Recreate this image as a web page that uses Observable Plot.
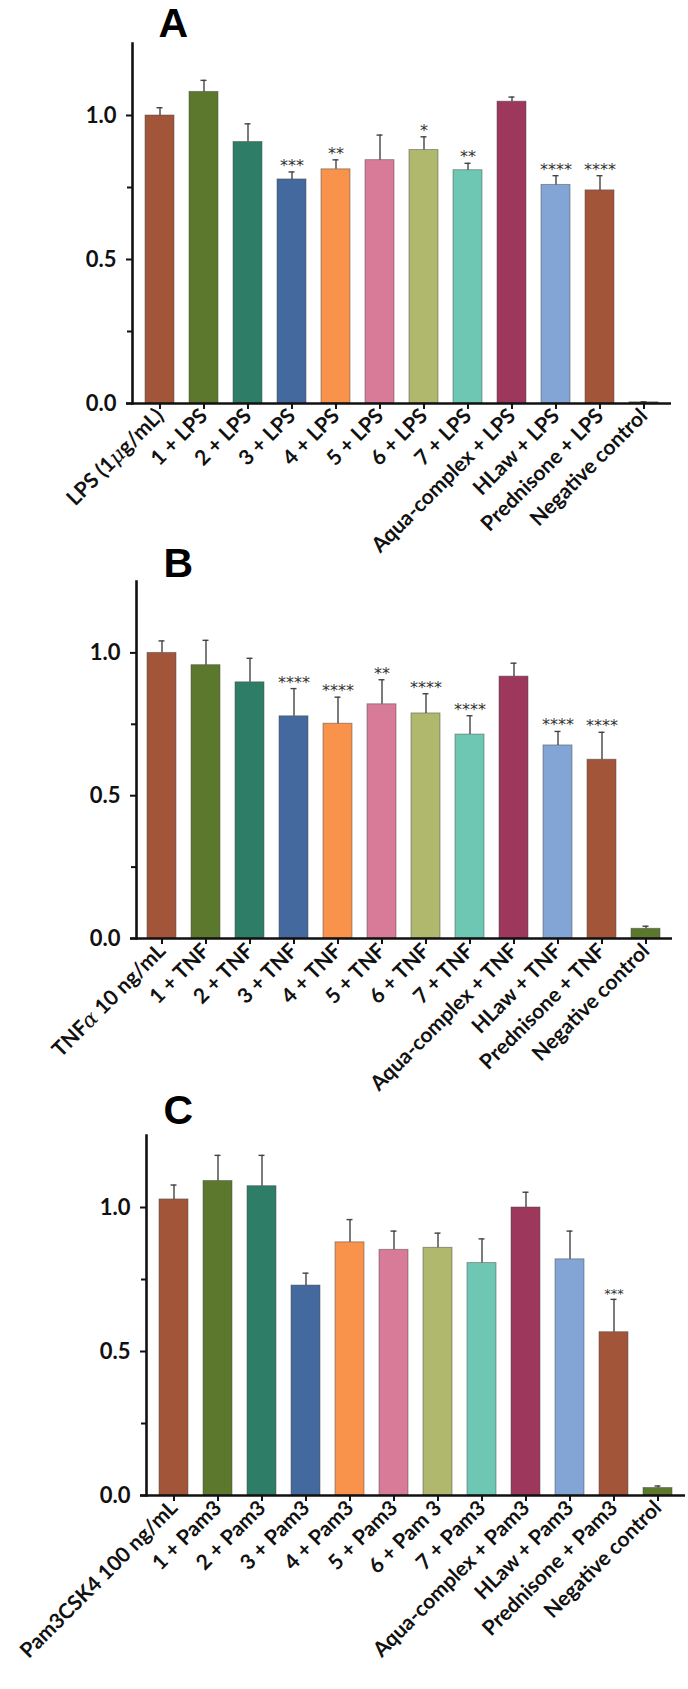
<!DOCTYPE html>
<html><head><meta charset="utf-8">
<script src="https://cdn.jsdelivr.net/npm/d3@7"></script>
<script src="https://cdn.jsdelivr.net/npm/@observablehq/plot@0.6"></script>
<style>
body{margin:0;background:#fff;}
#wrap{position:relative;width:688px;height:1689px;overflow:hidden;}
.panel{position:absolute;left:0;}
</style></head><body><div id="wrap"></div>
<script>
// ---- Data ----
const colors = ["#A3553A","#5C782C","#2E7D67","#44699E","#F9924A","#D87B98","#AFB86C","#6EC7B2","#9D375C","#82A5D6","#A3553A","#5C782C"];

const catsA = ["LPS (1μg/mL)","1 + LPS","2 + LPS","3 + LPS","4 + LPS","5 + LPS","6 + LPS","7 + LPS","Aqua-complex + LPS","HLaw + LPS","Prednisone + LPS","Negative control"];
const valsA = [1.000,1.082,0.908,0.778,0.813,0.845,0.880,0.810,1.048,0.759,0.740,0.004];
const errA  = [1.027,1.122,0.971,0.804,0.846,0.932,0.926,0.834,1.064,0.791,0.791,0.006];
const sigA  = ["","","","***","**","","*","**","","****","****",""];

const catsB = ["TNFα 10 ng/mL","1 + TNF","2 + TNF","3 + TNF","4 + TNF","5 + TNF","6 + TNF","7 + TNF","Aqua-complex + TNF","HLaw + TNF","Prednisone + TNF","Negative control"];
const valsB = [1.000,0.957,0.897,0.778,0.752,0.820,0.788,0.714,0.917,0.676,0.626,0.034];
const errB  = [1.042,1.044,0.981,0.875,0.845,0.906,0.857,0.780,0.964,0.725,0.722,0.043];
const sigB  = ["","","","****","****","**","****","****","","****","****",""];

const catsC = ["Pam3CSK4 100 ng/mL","1 + Pam3","2 + Pam3","3 + Pam3","4 + Pam3","5 + Pam3","6 + Pam 3","7 + Pam3","Aqua-complex + Pam3","HLaw + Pam3","Prednisone + Pam3","Negative control"];
const valsC = [1.028,1.092,1.074,0.729,0.879,0.853,0.860,0.807,1.000,0.820,0.567,0.026];
const errC  = [1.078,1.181,1.181,0.772,0.958,0.918,0.911,0.891,1.053,0.918,0.681,0.033];
const sigC  = ["","","","","","","","","","","***",""];

const yTicks = [0, 0.5, 1.0];
const yMinor = [0.25, 0.75];

// render Greek letters (μ, α) in an italic serif face, as in the original figure
function styleGreek(svg) {
  const walker = document.createTreeWalker(svg, NodeFilter.SHOW_TEXT);
  const nodes = [];
  while (walker.nextNode()) if (/[μα]/.test(walker.currentNode.nodeValue)) nodes.push(walker.currentNode);
  for (const node of nodes) {
    const parent = node.parentNode;
    const parts = node.nodeValue.split(/([μα])/);
    for (const p of parts) {
      if (!p) continue;
      if (p === "μ" || p === "α") {
        const ts = document.createElementNS("http://www.w3.org/2000/svg", "tspan");
        ts.setAttribute("font-family", "DejaVu Serif");
        ts.setAttribute("font-style", "italic");
        ts.setAttribute("font-weight", "normal");
        ts.textContent = p;
        parent.insertBefore(ts, node);
      } else {
        parent.insertBefore(document.createTextNode(p), node);
      }
    }
    parent.removeChild(node);
  }
}

function panel({letter, cats, vals, errs, sigs, top, height, marginLeft, marginRight, marginTop, marginBottom, paddingOuter, letterDx, letterDy, starSize}) {
  const data = cats.map((c, i) => ({cat: c, v: vals[i], e: errs[i], s: sigs[i], color: colors[i]}));
  const labelFont = "Lato";
  const svg = Plot.plot({
    width: 688, height, marginLeft, marginRight, marginTop, marginBottom,
    style: {background: "transparent", overflow: "visible"},
    x: {domain: cats, paddingInner: 0.33, paddingOuter, label: null},
    y: {domain: [0, 1.25], label: null},
    color: {type: "identity"},
    marks: [
      Plot.barY(data, {x: "cat", y: "v", fill: "color", stroke: "#4a4a4a", strokeOpacity: 0.55, strokeWidth: 0.9}),
      Plot.ruleX(data, {x: "cat", y1: "v", y2: "e", stroke: "#444", strokeWidth: 1.4}),
      Plot.tickY(data, {x: "cat", y: "e", stroke: "#444", strokeWidth: 1.4, insetLeft: 11.5, insetRight: 11.5}),
      Plot.text(data, {x: "cat", y: "e", text: "s", lineAnchor: "bottom", dy: -1, fontSize: starSize, fontFamily: "DejaVu Sans", fill: "#333"}),
      Plot.ruleY([0], {stroke: "#111", strokeWidth: 2.6, insetLeft: -6}),
      Plot.frame({anchor: "left", stroke: "#111", strokeWidth: 2.6}),
      Plot.axisY({ticks: yTicks, tickFormat: d => d.toFixed(1), tickSize: 6, tickPadding: 10, fontSize: 22, fontWeight: "bold", fontFamily: labelFont, stroke: "#111", strokeWidth: 2, fill: "#111", label: null}),
      Plot.axisY({ticks: yMinor, tickFormat: () => "", tickSize: 5, stroke: "#111", strokeWidth: 2, label: null}),
      Plot.axisX({tickRotate: -45, tickSize: 6, tickPadding: 3, stroke: "#111", strokeWidth: 2, fontSize: 21, fontWeight: "bold", fontFamily: labelFont, fill: "#111", label: null}),
      Plot.text([letter], {frameAnchor: "top-left", dx: letterDx, dy: letterDy, text: d => d, textAnchor: "start", lineAnchor: "bottom", fontSize: 41, fontWeight: "bold", fontFamily: "Liberation Sans", fill: "#000"})
    ]
  });
  styleGreek(svg);
  const div = document.createElement("div");
  div.className = "panel";
  div.style.top = top + "px";
  div.appendChild(svg);
  document.getElementById("wrap").appendChild(div);
}

panel({letter: "A", cats: catsA, vals: valsA, errs: errA, sigs: sigA, top: 0, height: 600,
  marginLeft: 132, marginRight: 17, marginTop: 43, marginBottom: 197, paddingOuter: 0.178,
  letterDx: 26, letterDy: -7, starSize: 16});
panel({letter: "B", cats: catsB, vals: valsB, errs: errB, sigs: sigB, top: 540, height: 600,
  marginLeft: 136, marginRight: 16, marginTop: 41, marginBottom: 202, paddingOuter: 0.189,
  letterDx: 27, letterDy: -5, starSize: 16});
panel({letter: "C", cats: catsC, vals: valsC, errs: errC, sigs: sigC, top: 1080, height: 609,
  marginLeft: 146, marginRight: 3, marginTop: 55, marginBottom: 194, paddingOuter: 0.192,
  letterDx: 17, letterDy: -12, starSize: 13});
</script></body></html>
